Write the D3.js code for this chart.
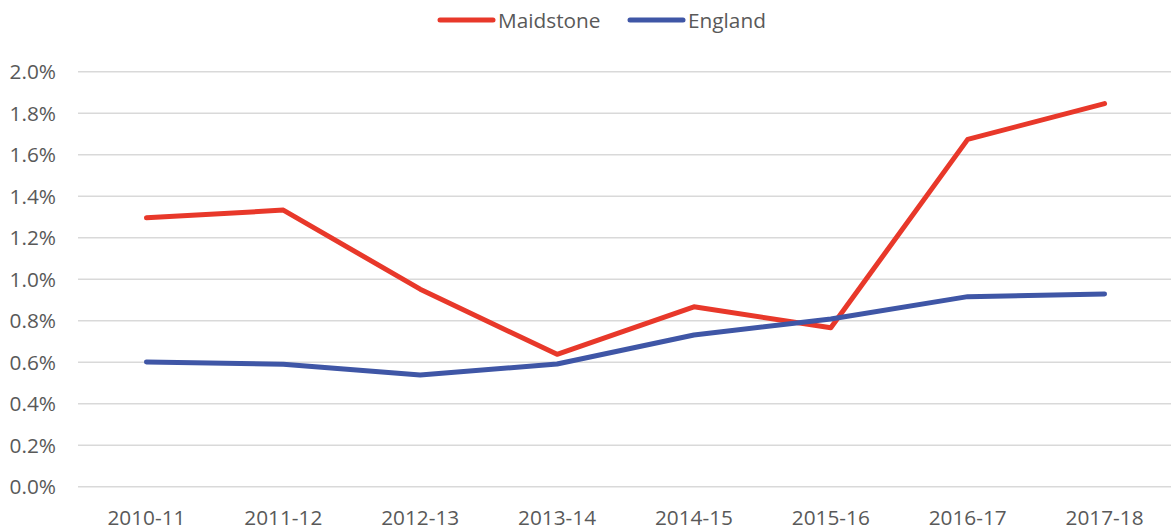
<!DOCTYPE html>
<html>
<head>
<meta charset="utf-8">
<script src="https://cdn.jsdelivr.net/npm/d3@7"></script>
<style>
  body { margin: 0; background: #fff; }
  svg text { font-family: "Open Sans", "Liberation Sans", sans-serif; fill: #595959; }
</style>
</head>
<body>
<div id="chart"></div>
<script>
// data
const years = ["2010-11", "2011-12", "2012-13", "2013-14", "2014-15", "2015-16", "2016-17", "2017-18"];
const maidstone = [1.296, 1.333, 0.952, 0.638, 0.867, 0.766, 1.674, 1.846];
const england = [0.601, 0.590, 0.538, 0.591, 0.731, 0.808, 0.916, 0.929];
const yTicks = [0, 0.2, 0.4, 0.6, 0.8, 1.0, 1.2, 1.4, 1.6, 1.8, 2.0];
const seriesNames = ["Maidstone", "England"];
const seriesColors = ["#e8382a", "#3f56a6"];

const width = 1171;
const height = 532;
const plotLeft = 78, plotRight = 1173, plotTop = 71.7, plotBottom = 486.7;
const fontSize = 20.8;

const svg = d3.select("#chart").append("svg")
    .attr("width", width)
    .attr("height", height);

//----------------------------SCALES----------------------------//
const xScale = d3.scaleBand().domain(years).range([plotLeft, plotRight]);
const yScale = d3.scaleLinear().domain([0, 2]).range([plotBottom, plotTop]);

//-----------------------------GRID-----------------------------//
svg.append("g")
    .selectAll("line")
    .data(yTicks)
    .enter()
    .append("line")
    .attr("x1", plotLeft)
    .attr("x2", plotRight)
    .attr("y1", d => yScale(d))
    .attr("y2", d => yScale(d))
    .attr("stroke", "#d9d9d9")
    .attr("stroke-width", 1.5);

//-----------------------------AXES-----------------------------//
const yaxis = d3.axisLeft(yScale)
    .tickValues(yTicks)
    .tickSize(0)
    .tickPadding(0)
    .tickFormat(d => d3.format(".1f")(d) + "%");

svg.append("g")
    .attr("transform", "translate(56,0)")
    .call(yaxis)
    .call(g => g.select(".domain").remove())
    .selectAll("text")
    .attr("font-size", fontSize)
    .attr("dy", "0.35em");

const xaxis = d3.axisBottom(xScale).tickSize(0).tickPadding(0);

svg.append("g")
    .attr("transform", "translate(0," + plotBottom + ")")
    .call(xaxis)
    .call(g => g.select(".domain").remove())
    .selectAll("text")
    .attr("font-size", fontSize)
    .attr("dy", 0)
    .attr("y", 38);

//----------------------------LINES-----------------------------//
const line = d3.line()
    .x((d, i) => xScale(years[i]) + xScale.bandwidth() / 2)
    .y(d => yScale(d));

[maidstone, england].forEach(function(vals, k) {
    svg.append("path")
        .attr("d", line(vals))
        .attr("fill", "none")
        .attr("stroke", seriesColors[k])
        .attr("stroke-width", 5)
        .attr("stroke-linejoin", "round")
        .attr("stroke-linecap", "round");
});

//----------------------------LEGEND----------------------------//
const legendX = [440, 630];
seriesNames.forEach(function(name, k) {
    const g = svg.append("g").attr("transform", "translate(" + legendX[k] + ",20)");
    g.append("line")
        .attr("x1", 0).attr("x2", 53)
        .attr("stroke", seriesColors[k])
        .attr("stroke-width", 5)
        .attr("stroke-linecap", "round");
    g.append("text")
        .attr("x", 58)
        .attr("y", 7.5)
        .attr("font-size", fontSize)
        .text(name);
});
</script>
</body>
</html>
